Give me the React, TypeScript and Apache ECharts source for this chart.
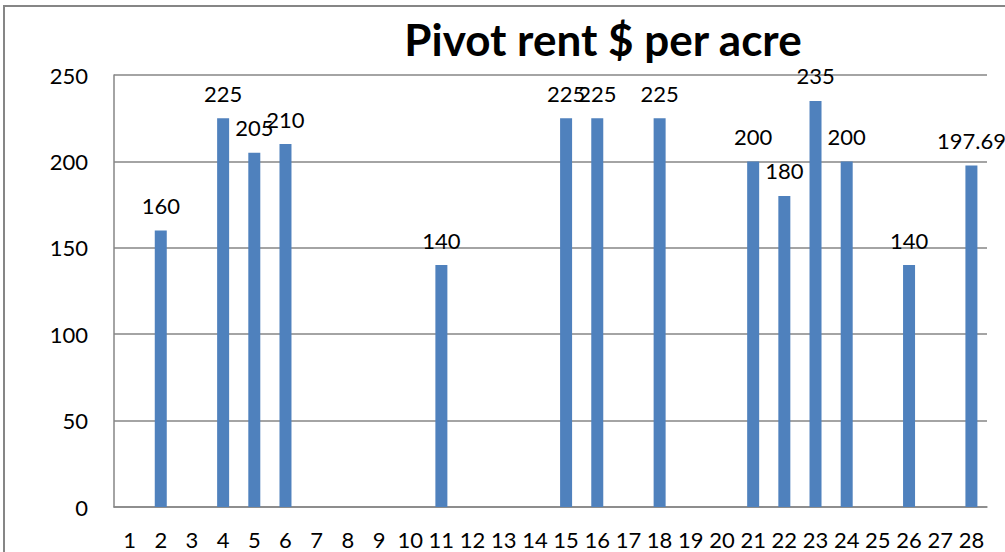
import React, { useEffect, useRef } from "react";
import * as echarts from "echarts";

const titleText = "Pivot rent $ per acre";
const categories = ["1","2","3","4","5","6","7","8","9","10","11","12","13","14","15","16","17","18","19","20","21","22","23","24","25","26","27","28"];
const rentValues: (number | null)[] = [null, 160, null, 225, 205, 210, null, null, null, null, 140, null, null, null, 225, 225, null, 225, null, null, 200, 180, 235, 200, null, 140, null, 197.69];
const yTicks = { min: 0, max: 250, interval: 50 };

export default function App() {
  const ref = useRef<HTMLDivElement>(null);
  useEffect(() => {
    if (!ref.current) return;
    const chart = echarts.init(ref.current, null, { renderer: "svg" });
    const font = "Lato, 'Open Sans', sans-serif";
    chart.setOption({
      animation: false,
      backgroundColor: "#ffffff",
      title: {
        text: titleText,
        left: 598,
        textAlign: "center",
        top: 12,
        textStyle: { fontFamily: font, fontWeight: "bold", fontSize: 44, color: "#000" },
      },
      graphic: [
        {
          type: "rect",
          shape: { x: 4, y: 6, width: 1100, height: 600 },
          style: { fill: "none", stroke: "#868686", lineWidth: 2 },
          silent: true,
        },
      ],
      grid: { left: 114, right: 18, top: 75, bottom: 45, containLabel: false },
      xAxis: {
        type: "category",
        data: categories,
        axisTick: { show: false },
        axisLine: { show: true, lineStyle: { color: "#868686", width: 1.5 } },
        axisLabel: { fontFamily: font, fontSize: 22, color: "#000", margin: 21, interval: 0 },
      },
      yAxis: {
        type: "value",
        min: yTicks.min,
        max: yTicks.max,
        interval: yTicks.interval,
        axisLine: { show: true, lineStyle: { color: "#868686", width: 1.5 } },
        axisTick: { show: false },
        splitLine: { lineStyle: { color: "#868686", width: 1.5 } },
        axisLabel: { fontFamily: font, fontSize: 22, color: "#000", margin: 26 },
      },
      series: [
        {
          type: "bar",
          data: rentValues,
          barWidth: 12,
          itemStyle: { color: "#4F81BD" },
          label: {
            show: true,
            position: "top",
            distance: 14,
            fontFamily: font,
            fontSize: 22,
            color: "#000",
          },
        },
      ],
    });
    return () => chart.dispose();
  }, []);
  return <div ref={ref} style={{ position: "fixed", left: 0, top: 0, width: 1005, height: 552 }} />;
}
